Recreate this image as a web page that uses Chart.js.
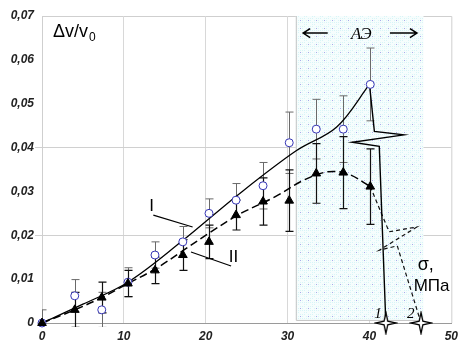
<!DOCTYPE html>
<html>
<head>
<meta charset="utf-8">
<script src="https://cdn.jsdelivr.net/npm/chart.js@4/dist/chart.umd.min.js"></script>
<style>
  html, body { margin: 0; padding: 0; background: #fff; }
  #wrap { width: 464px; height: 346px; }
</style>
</head>
<body>
<div id="wrap"><canvas id="chart" width="464" height="346"></canvas></div>
<script>
// stress, MPa
var stress = [0, 4, 7.3, 10.5, 13.8, 17.2, 20.4, 23.7, 27, 30.2, 33.5, 36.8, 40.1];
// curve I (open circles) and its error
var dvI  = [0, 0.0062, 0.003, 0.0093, 0.0155, 0.0185, 0.025, 0.028, 0.0313, 0.0411, 0.0442, 0.0442, 0.0544];
var errI = [0.003, 0.0037, 0.004, 0.0033, 0.003, 0.0035, 0.0033, 0.0038, 0.0053, 0.007, 0.0068, 0.0076, 0.0083];
// curve II (triangles) and its error
var dvII  = [0, 0.003, 0.0058, 0.009, 0.012, 0.0155, 0.0185, 0.0246, 0.0277, 0.0279, 0.0341, 0.0343, 0.0311];
var errII = [0, 0.004, 0.0035, 0.003, 0.003, 0.0035, 0.0038, 0.0034, 0.0054, 0.007, 0.0068, 0.0082, 0.0086];

// trend lines
var fitStressI = [0, 5, 10.5, 17, 24, 31, 36, 40];
var fitI       = [0, 0.0043, 0.0093, 0.0185, 0.0293, 0.0392, 0.0447, 0.0544];
var fitStressII = [0, 4, 7.3, 10.5, 14, 17.3, 20.5, 24, 28.5, 32, 35, 37.5, 40.1];
var fitII       = [0, 0.003, 0.0058, 0.009, 0.0125, 0.0166, 0.0206, 0.0247, 0.0288, 0.0326, 0.0345, 0.0339, 0.0311];

// failure (stress drop) lines 1 and 2
var dropStress1 = [40.0, 40.6, 44.2, 37.9, 41.2, 42.0];
var drop1       = [0.0544, 0.0437, 0.0429, 0.0412, 0.0403, 0];
var dropStress2 = [40.1, 42.4, 45.8, 41.2, 43.4, 46.3];
var drop2       = [0.0311, 0.0208, 0.0219, 0.0166, 0.0176, 0];
var failStress = [42.0, 46.3];

// acoustic emission zone
var aeZone = [31.0, 46.6];

var xTicks = [0, 10, 20, 30, 40, 50];
var yTicks = [0, 0.01, 0.02, 0.03, 0.04, 0.05, 0.06, 0.07];
var yGrid = [0.02, 0.04];

function pts(xs, ys) {
    return xs.map(function(x, i) { return {x: x, y: ys[i]}; });
}
function near(a, b) { return Math.abs(a - b) < 1e-9; }

// 4-pointed star marker
var star = document.createElement('canvas');
star.width = 24; star.height = 24;
(function() {
    var c = star.getContext('2d');
    var cx = 12, cy = 12, R = 10.5, r = 2.6;
    c.beginPath();
    for (var i = 0; i < 8; i++) {
        var a = i * Math.PI / 4 - Math.PI / 2;
        var rr = i % 2 ? r : R;
        c.lineTo(cx + rr * Math.cos(a), cy + rr * Math.sin(a));
    }
    c.closePath();
    c.fillStyle = '#fff';
    c.fill();
    c.lineWidth = 1.3;
    c.strokeStyle = '#000';
    c.stroke();
})();

// dotted fill of the AE zone
var tile = document.createElement('canvas');
tile.width = 8; tile.height = 8;
(function() {
    var c = tile.getContext('2d');
    c.fillStyle = '#f6fdfd';
    c.fillRect(0, 0, 8, 8);
    c.fillStyle = '#d8f5f7';
    [[0, 2], [2, 0], [4, 2], [2, 4], [6, 2], [2, 6], [4, 6], [6, 6], [0, 6], [6, 4], [0, 0]].forEach(function(p) {
        c.fillRect(p[0], p[1], 1, 1);
    });
    c.fillStyle = '#aaaaea';
    c.fillRect(4, 4, 1, 1);
})();

var serif = '"Liberation Serif", "Times New Roman", serif';
var sans = '"Liberation Sans", Arial, sans-serif';

var overlay = {
    id: 'overlay',
    beforeDatasetsDraw: function(chart) {
        var ctx = chart.ctx, a = chart.chartArea;
        var x = chart.scales.x, y = chart.scales.y;
        ctx.save();
        // AE zone
        var zl = x.getPixelForValue(aeZone[0]), zr = x.getPixelForValue(aeZone[1]);
        var zt = y.getPixelForValue(0.07), zb = y.getPixelForValue(0.0007);
        ctx.fillStyle = ctx.createPattern(tile, 'repeat');
        ctx.fillRect(zl, zt, zr - zl, zb - zt);
        ctx.strokeStyle = '#c4c4c4';
        ctx.lineWidth = 1;
        ctx.beginPath();
        ctx.moveTo(zl + 0.5, zt);
        ctx.lineTo(zl + 0.5, zb + 0.5);
        ctx.lineTo(zr, zb + 0.5);
        ctx.stroke();

        // error bars
        ctx.beginPath();
        ctx.rect(a.left, a.top, a.right - a.left, a.bottom - a.top + 4);
        ctx.clip();
        function bars(vals, errs, color, width) {
            ctx.strokeStyle = color;
            ctx.lineWidth = width;
            vals.forEach(function(v, i) {
                if (!errs[i]) return;
                var px = Math.round(x.getPixelForValue(stress[i])) + 0.5;
                var t = y.getPixelForValue(v + errs[i]);
                var b = y.getPixelForValue(v - errs[i]);
                ctx.beginPath();
                ctx.moveTo(px, t); ctx.lineTo(px, b);
                ctx.moveTo(px - 4, t); ctx.lineTo(px + 4, t);
                ctx.moveTo(px - 4, b); ctx.lineTo(px + 4, b);
                ctx.stroke();
            });
        }
        bars(dvI, errI, '#6a6a6a', 1);
        bars(dvII, errII, '#111', 1.2);
        ctx.restore();
    },
    afterDraw: function(chart) {
        var ctx = chart.ctx;
        var x = chart.scales.x, y = chart.scales.y;
        function X(v) { return x.getPixelForValue(v); }
        function Y(v) { return y.getPixelForValue(v); }
        ctx.save();
        ctx.fillStyle = '#000';
        ctx.strokeStyle = '#000';
        ctx.textBaseline = 'alphabetic';

        // y title
        ctx.font = '18px ' + sans;
        ctx.fillText('Δv/v', X(1.33), Y(0.0652));
        var w = ctx.measureText('Δv/v').width;
        ctx.font = '12px ' + sans;
        ctx.fillText('0', X(1.33) + w + 1, Y(0.0643));

        // AE label with arrows
        ctx.font = 'italic 17px ' + serif;
        ctx.textAlign = 'center';
        ctx.fillText('АЭ', X(39.0), Y(0.0648));
        ctx.lineWidth = 1.5;
        function arrow(x1, x2, yy, dir) {
            var p1 = X(x1), p2 = X(x2), py = Y(yy);
            var tip = dir < 0 ? p1 : p2;
            ctx.beginPath();
            ctx.moveTo(p1, py); ctx.lineTo(p2, py);
            ctx.moveTo(tip - dir * 7, py - 4.5); ctx.lineTo(tip, py); ctx.lineTo(tip - dir * 7, py + 4.5);
            ctx.stroke();
        }
        arrow(31.9, 34.9, 0.0661, -1);
        arrow(42.5, 45.8, 0.0661, 1);

        // curve labels with leaders
        ctx.textAlign = 'left';
        ctx.font = '17px ' + sans;
        ctx.fillText('I', X(13.1), Y(0.0255));
        ctx.fillText('II', X(22.8), Y(0.0139));
        ctx.lineWidth = 1.2;
        ctx.beginPath();
        ctx.moveTo(X(13.6), Y(0.0246)); ctx.lineTo(X(18.4), Y(0.0219));
        ctx.moveTo(X(18.2), Y(0.0162)); ctx.lineTo(X(23.1), Y(0.013));
        ctx.stroke();

        // x title
        ctx.font = '18px ' + sans;
        ctx.fillText('σ,', X(45.9), Y(0.0121));
        ctx.font = '17px ' + sans;
        ctx.fillText('МПа', X(45.4), Y(0.0073));

        // failure labels
        ctx.font = 'italic 15px ' + serif;
        ctx.fillText('1', X(40.6), Y(0.0011));
        ctx.fillText('2', X(44.6), Y(0.0011));
        ctx.restore();
    }
};

new Chart(document.getElementById('chart'), {
    type: 'scatter',
    data: {
        datasets: [{
            data: pts(failStress, [0, 0]),
            pointStyle: star,
            clip: false
        }, {
            data: pts(stress, dvII),
            pointStyle: 'triangle',
            pointRadius: 5,
            backgroundColor: '#000',
            borderColor: '#000',
            borderWidth: 1,
            clip: false
        }, {
            data: pts(stress, dvI),
            pointStyle: 'circle',
            pointRadius: 4,
            backgroundColor: '#fff',
            borderColor: '#3535b5',
            borderWidth: 1,
            clip: false
        }, {
            data: pts(fitStressI, fitI),
            showLine: true,
            pointRadius: 0,
            borderColor: '#000',
            borderWidth: 1.3,
            tension: 0.35
        }, {
            data: pts(fitStressII, fitII),
            showLine: true,
            pointRadius: 0,
            borderColor: '#000',
            borderWidth: 1.5,
            borderDash: [8, 4],
            tension: 0.35
        }, {
            data: pts(dropStress1, drop1),
            showLine: true,
            pointRadius: 0,
            borderColor: '#000',
            borderWidth: 1.4
        }, {
            data: pts(dropStress2, drop2),
            showLine: true,
            pointRadius: 0,
            borderColor: '#111',
            borderWidth: 1.2,
            borderDash: [4, 3]
        }]
    },
    options: {
        responsive: false,
        animation: false,
        events: [],
        layout: { padding: { top: 16, right: 7, left: 0, bottom: 0 } },
        plugins: { legend: { display: false }, tooltip: { enabled: false } },
        scales: {
            x: {
                type: 'linear',
                min: 0, max: 50,
                afterFit: function(s) { s.height = 23; },
                afterBuildTicks: function(s) { s.ticks = xTicks.map(function(v) { return {value: v}; }); },
                ticks: {
                    padding: 6,
                    color: '#222',
                    font: { family: sans, size: 12, weight: 'bold', style: 'italic' }
                },
                grid: {
                    drawTicks: false,
                    color: function(c) { return (c.tick && c.tick.value > 0 && c.tick.value < 50) ? '#d8d8d8' : 'transparent'; }
                },
                border: { display: true, color: '#9a9a9a', width: 1 }
            },
            y: {
                type: 'linear',
                min: 0, max: 0.07,
                afterFit: function(s) { s.width = 42; },
                afterBuildTicks: function(s) { s.ticks = yTicks.map(function(v) { return {value: v}; }); },
                ticks: {
                    padding: 1,
                    color: '#222',
                    font: { family: sans, size: 12, weight: 'bold', style: 'italic' },
                    callback: function(v) { return near(v, 0) ? '0' : v.toFixed(2).replace('.', ','); }
                },
                grid: {
                    tickLength: 7,
                    color: function(c) {
                        var v = c.tick ? c.tick.value : -1;
                        return yGrid.some(function(g) { return near(g, v); }) ? '#d0d0d0' : 'transparent';
                    }
                },
                border: { display: true, color: '#cfcfcf', width: 1 }
            }
        }
    },
    plugins: [{
        id: 'frame',
        beforeDraw: function(chart) {
            var a = chart.chartArea, ctx = chart.ctx;
            ctx.save();
            ctx.strokeStyle = '#cfcfcf';
            ctx.lineWidth = 1;
            ctx.beginPath();
            ctx.moveTo(a.left, a.top + 0.5);
            ctx.lineTo(a.right + 0.5, a.top + 0.5);
            ctx.lineTo(a.right + 0.5, a.bottom);
            ctx.stroke();
            ctx.restore();
        }
    }, overlay]
});
</script>
</body>
</html>
